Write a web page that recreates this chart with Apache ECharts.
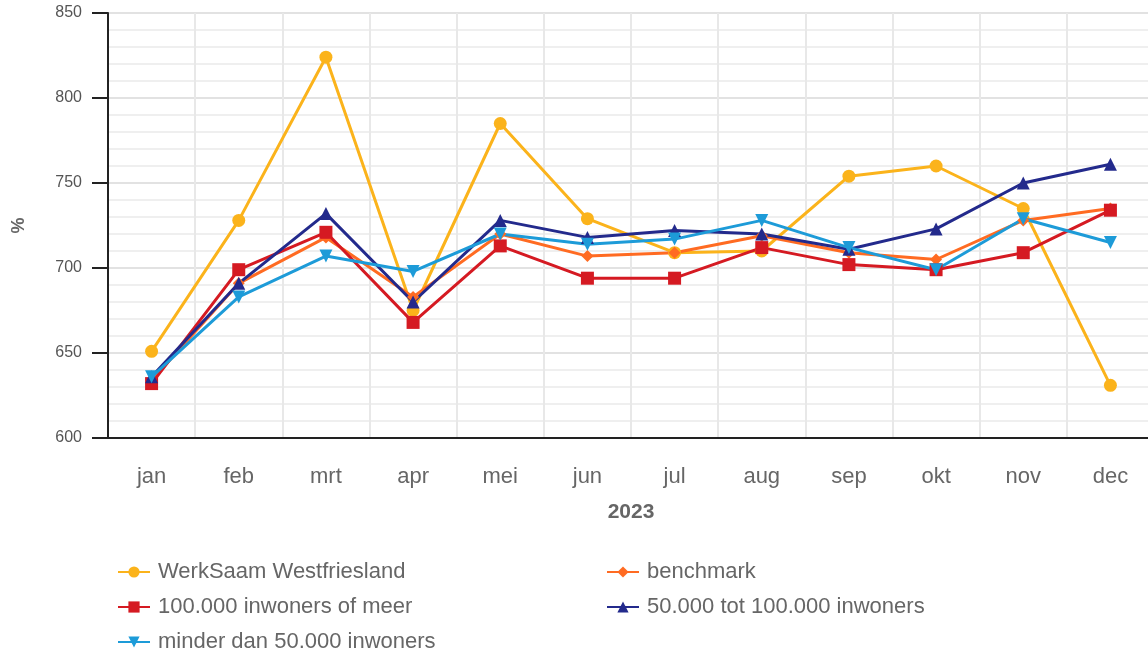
<!DOCTYPE html>
<html>
<head>
<meta charset="utf-8">
<script src="https://cdn.jsdelivr.net/npm/echarts@6/dist/echarts.min.js"></script>
<style>
  html, body { margin: 0; padding: 0; background: #fff; }
  #chart { width: 1148px; height: 651px; }
</style>
</head>
<body>
<div id="chart"></div>
<script>
const months = ['jan', 'feb', 'mrt', 'apr', 'mei', 'jun', 'jul', 'aug', 'sep', 'okt', 'nov', 'dec']

const werkSaam = [651, 728, 824, 675, 785, 729, 709, 710, 754, 760, 735, 631]
const benchmark = [634, 691, 718, 683, 720, 707, 709, 719, 709, 705, 728, 735]
const groot = [632, 699, 721, 668, 713, 694, 694, 712, 702, 699, 709, 734]
const middel = [636, 691, 732, 680, 728, 718, 722, 720, 711, 723, 750, 761]
const klein = [636, 683, 707, 698, 720, 714, 717, 728, 712, 699, 729, 715]

const seriesDefs = [
  { name: 'WerkSaam Westfriesland', data: werkSaam, color: '#fbb31b', symbol: 'circle', size: 13 },
  { name: 'benchmark', data: benchmark, color: '#ff6b22', symbol: 'diamond', size: 12 },
  { name: '100.000 inwoners of meer', data: groot, color: '#d51a22', symbol: 'rect', size: 13 },
  { name: '50.000 tot 100.000 inwoners', data: middel, color: '#232a8c', symbol: 'triangle', size: 13 },
  { name: 'minder dan 50.000 inwoners', data: klein, color: '#1d9bd8', symbol: 'path://M0,0 L10,0 L5,9 Z', size: 13 },
]

const chart = echarts.init(document.getElementById('chart'))

const legendCommon = {
  orient: 'vertical',
  top: 561,
  height: 200,
  padding: 0,
  itemWidth: 32,
  itemHeight: 14,
  itemGap: 13,
  textStyle: { color: '#666', fontSize: 22, fontFamily: 'Liberation Sans, Arial, sans-serif', padding: [0, 0, 0, 3] },
}

chart.setOption({
  animation: false,
  textStyle: { fontFamily: 'Liberation Sans, Arial, sans-serif' },
  grid: { left: 108, top: 13, width: 1046, bottom: 213, containLabel: false, outerBoundsMode: 'none' },
  legend: [
    Object.assign({}, legendCommon, {
      left: 117,
      data: ['WerkSaam Westfriesland', '100.000 inwoners of meer', 'minder dan 50.000 inwoners'],
    }),
    Object.assign({}, legendCommon, {
      left: 606,
      data: ['benchmark', '50.000 tot 100.000 inwoners'],
    }),
  ],
  xAxis: {
    type: 'category',
    data: months,
    boundaryGap: true,
    name: '2023',
    nameLocation: 'middle',
    nameGap: 64,
    nameTextStyle: { color: '#666', fontSize: 21, fontWeight: 'bold' },
    axisLine: { lineStyle: { color: '#222', width: 2 } },
    axisTick: { show: false },
    axisLabel: { color: '#666', fontSize: 22, margin: 28 },
    splitLine: { show: true, interval: 0, lineStyle: { color: '#e8e8e8', width: 2 } },
  },
  yAxis: {
    type: 'value',
    min: 600,
    max: 850,
    interval: 50,
    name: '%',
    nameLocation: 'middle',
    nameGap: 80,
    nameRotate: 90,
    nameTextStyle: { color: '#666', fontSize: 18, fontWeight: 'bold' },
    axisLine: { show: true, lineStyle: { color: '#222', width: 2 } },
    axisTick: { show: true, length: 16, lineStyle: { color: '#222', width: 2 } },
    axisLabel: { color: '#555', fontSize: 16, margin: 26 },
    splitLine: { show: true, lineStyle: { color: '#e2e2e2', width: 2 } },
    minorTick: { show: false, splitNumber: 5 },
    minorSplitLine: { show: true, lineStyle: { color: '#efefef', width: 2 } },
  },
  series: seriesDefs.map(s => ({
    name: s.name,
    type: 'line',
    data: s.data,
    symbol: s.symbol,
    symbolSize: s.size,
    showSymbol: true,
    color: s.color,
    lineStyle: { width: 3 },
  })),
})
</script>
</body>
</html>
